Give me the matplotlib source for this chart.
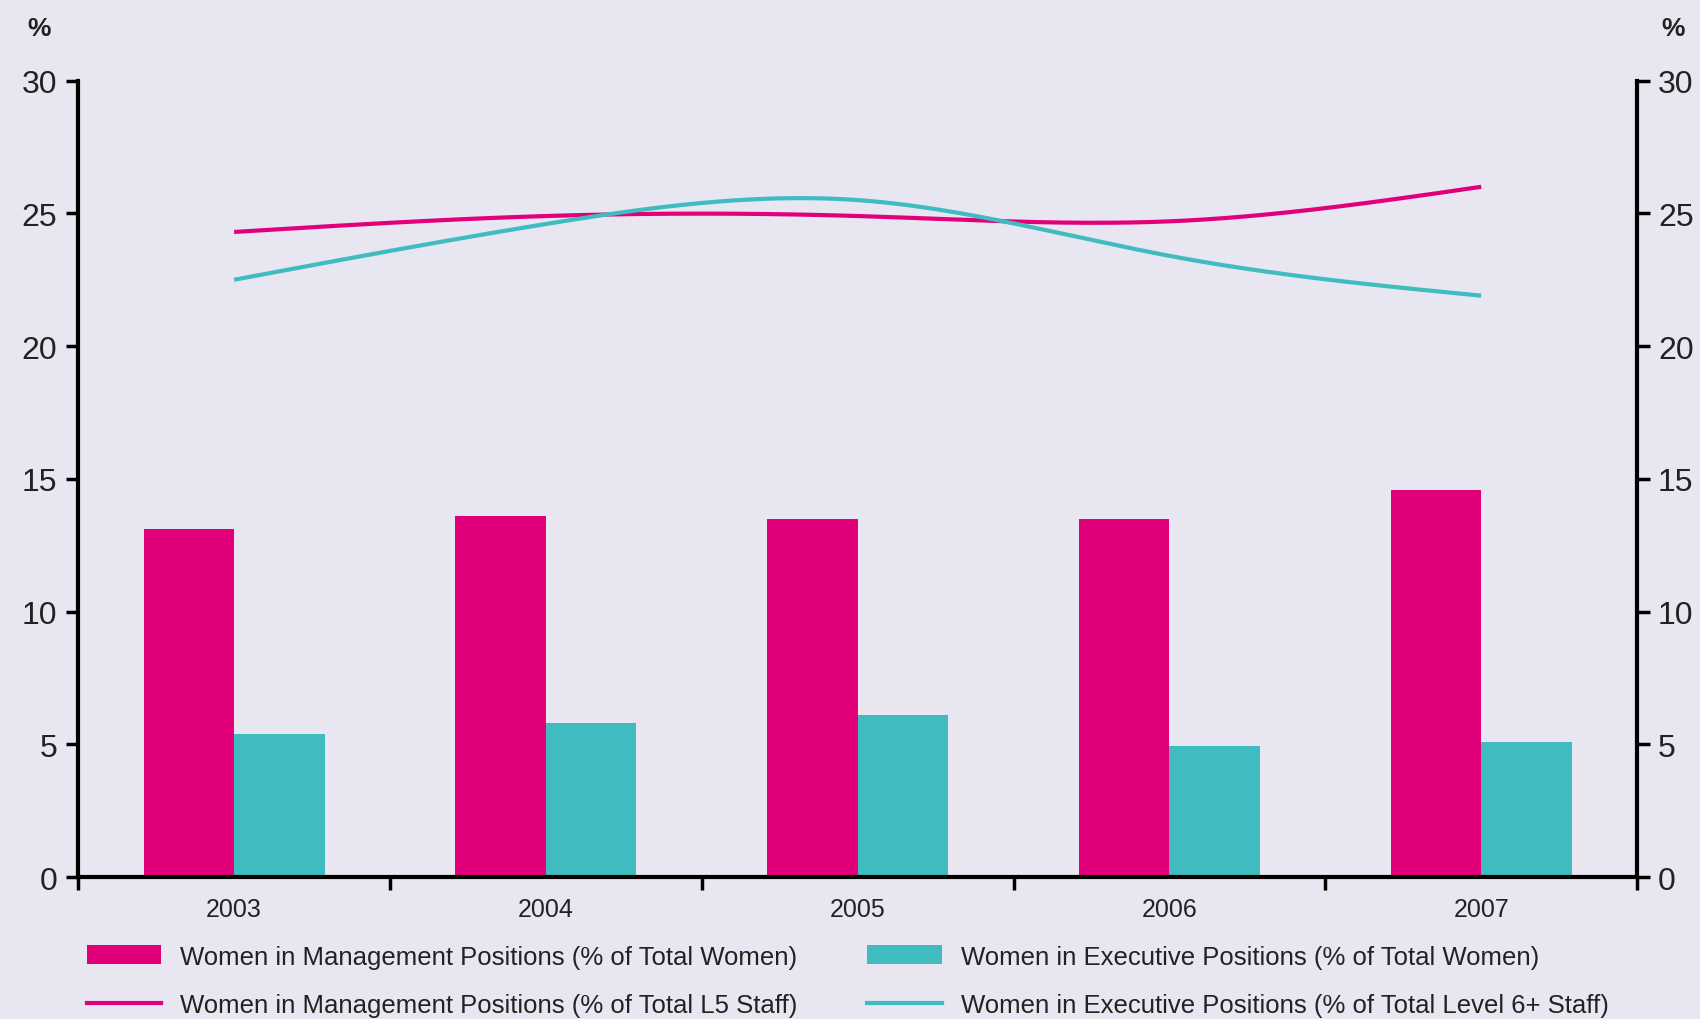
import numpy as np
import matplotlib
matplotlib.use('Agg')
import matplotlib.pyplot as plt
from matplotlib.patches import Patch
from matplotlib.lines import Line2D

plt.rcParams['font.family'] = ['Liberation Sans', 'DejaVu Sans']
plt.rcParams['text.color'] = '#222222'
plt.rcParams['xtick.labelcolor'] = '#222222'
plt.rcParams['ytick.labelcolor'] = '#222222'

years = ["2003", "2004", "2005", "2006", "2007"]
mgmt_women = [13.1, 13.6, 13.5, 13.5, 14.6]
exec_women = [5.4, 5.8, 6.1, 4.95, 5.1]
mgmt_l5 = [24.3, 24.9, 24.9, 24.7, 26.0]
exec_l6 = [22.5, 24.6, 25.5, 23.4, 21.9]

MAGENTA = "#E2007A"
CYAN = "#40BCC1"
BG = "#E8E6F0"


def smooth(x, y, n=200):
    # natural cubic spline through the points, just for drawing
    x = np.asarray(x, float)
    y = np.asarray(y, float)
    k = len(x)
    h = np.diff(x)
    A = np.zeros((k, k))
    b = np.zeros(k)
    A[0, 0] = A[-1, -1] = 1
    for i in range(1, k - 1):
        A[i, i - 1] = h[i - 1]
        A[i, i] = 2 * (h[i - 1] + h[i])
        A[i, i + 1] = h[i]
        b[i] = 3 * ((y[i + 1] - y[i]) / h[i] - (y[i] - y[i - 1]) / h[i - 1])
    c = np.linalg.solve(A, b)
    xs = np.linspace(x[0], x[-1], n)
    idx = np.clip(np.searchsorted(x, xs) - 1, 0, k - 2)
    dx = xs - x[idx]
    bb = (y[idx + 1] - y[idx]) / h[idx] - h[idx] * (2 * c[idx] + c[idx + 1]) / 3
    d = (c[idx + 1] - c[idx]) / (3 * h[idx])
    ys = y[idx] + bb * dx + c[idx] * dx ** 2 + d * dx ** 3
    return xs, ys


fig = plt.figure(figsize=(17, 10.2), dpi=100, facecolor=BG)
ax = fig.add_axes([0.046, 0.139, 0.917, 0.781], facecolor=BG)

x = np.arange(len(years)) + 0.5
w = 0.29
ax.bar(x - w / 2, mgmt_women, width=w, color=MAGENTA, zorder=2)
ax.bar(x + w / 2, exec_women, width=w, color=CYAN, zorder=2)

xs, ys = smooth(x, mgmt_l5)
ax.plot(xs, ys, color=MAGENTA, lw=3, zorder=3, solid_capstyle='butt')
xs, ys = smooth(x, exec_l6)
ax.plot(xs, ys, color=CYAN, lw=3, zorder=3, solid_capstyle='butt')

ax.set_xlim(0, len(years))
ax.set_ylim(0, 30)
ax.set_yticks(range(0, 31, 5))
ax.set_xticks(range(0, len(years) + 1))
ax.set_xticklabels([])
ax.set_xticks(x, minor=True)
ax.set_xticklabels(years, minor=True)
ax.tick_params(axis='x', which='major', direction='out', length=9, width=2.5)
ax.tick_params(axis='x', which='minor', length=0, labelsize=18, pad=14)
ax.tick_params(axis='y', direction='out', length=9, width=2.5, labelsize=23, pad=6)

for s in ['top', 'right']:
    ax.spines[s].set_visible(False)
for s in ['left', 'bottom']:
    ax.spines[s].set_linewidth(3)

ax2 = ax.twinx()
ax2.set_ylim(0, 30)
ax2.set_yticks(range(0, 31, 5))
ax2.tick_params(axis='y', direction='out', length=9, width=2.5, labelsize=23, pad=6)
for s in ['top', 'left', 'bottom']:
    ax2.spines[s].set_visible(False)
ax2.spines['right'].set_linewidth(3)

fig.text(0.023, 0.972, "%", fontsize=19, fontweight='bold', ha='center', va='center')
fig.text(0.984, 0.972, "%", fontsize=19, fontweight='bold', ha='center', va='center')

handles = [
    Patch(facecolor=MAGENTA, edgecolor='none'),
    Line2D([], [], color=MAGENTA, lw=3),
    Patch(facecolor=CYAN, edgecolor='none'),
    Line2D([], [], color=CYAN, lw=3),
]
labels = [
    "Women in Management Positions (% of Total Women)",
    "Women in Management Positions (% of Total L5 Staff)",
    "Women in Executive Positions (% of Total Women)",
    "Women in Executive Positions (% of Total Level 6+ Staff)",
]
fig.legend(handles, labels, ncol=2, loc='upper left', bbox_to_anchor=(0.051, 0.073),
           frameon=False, fontsize=18.5, handlelength=2.9, handleheight=0.75,
           columnspacing=2.7, labelspacing=0.95, handletextpad=0.75,
           borderpad=0, borderaxespad=0)

fig.savefig("out.png", dpi=100, facecolor=BG)
